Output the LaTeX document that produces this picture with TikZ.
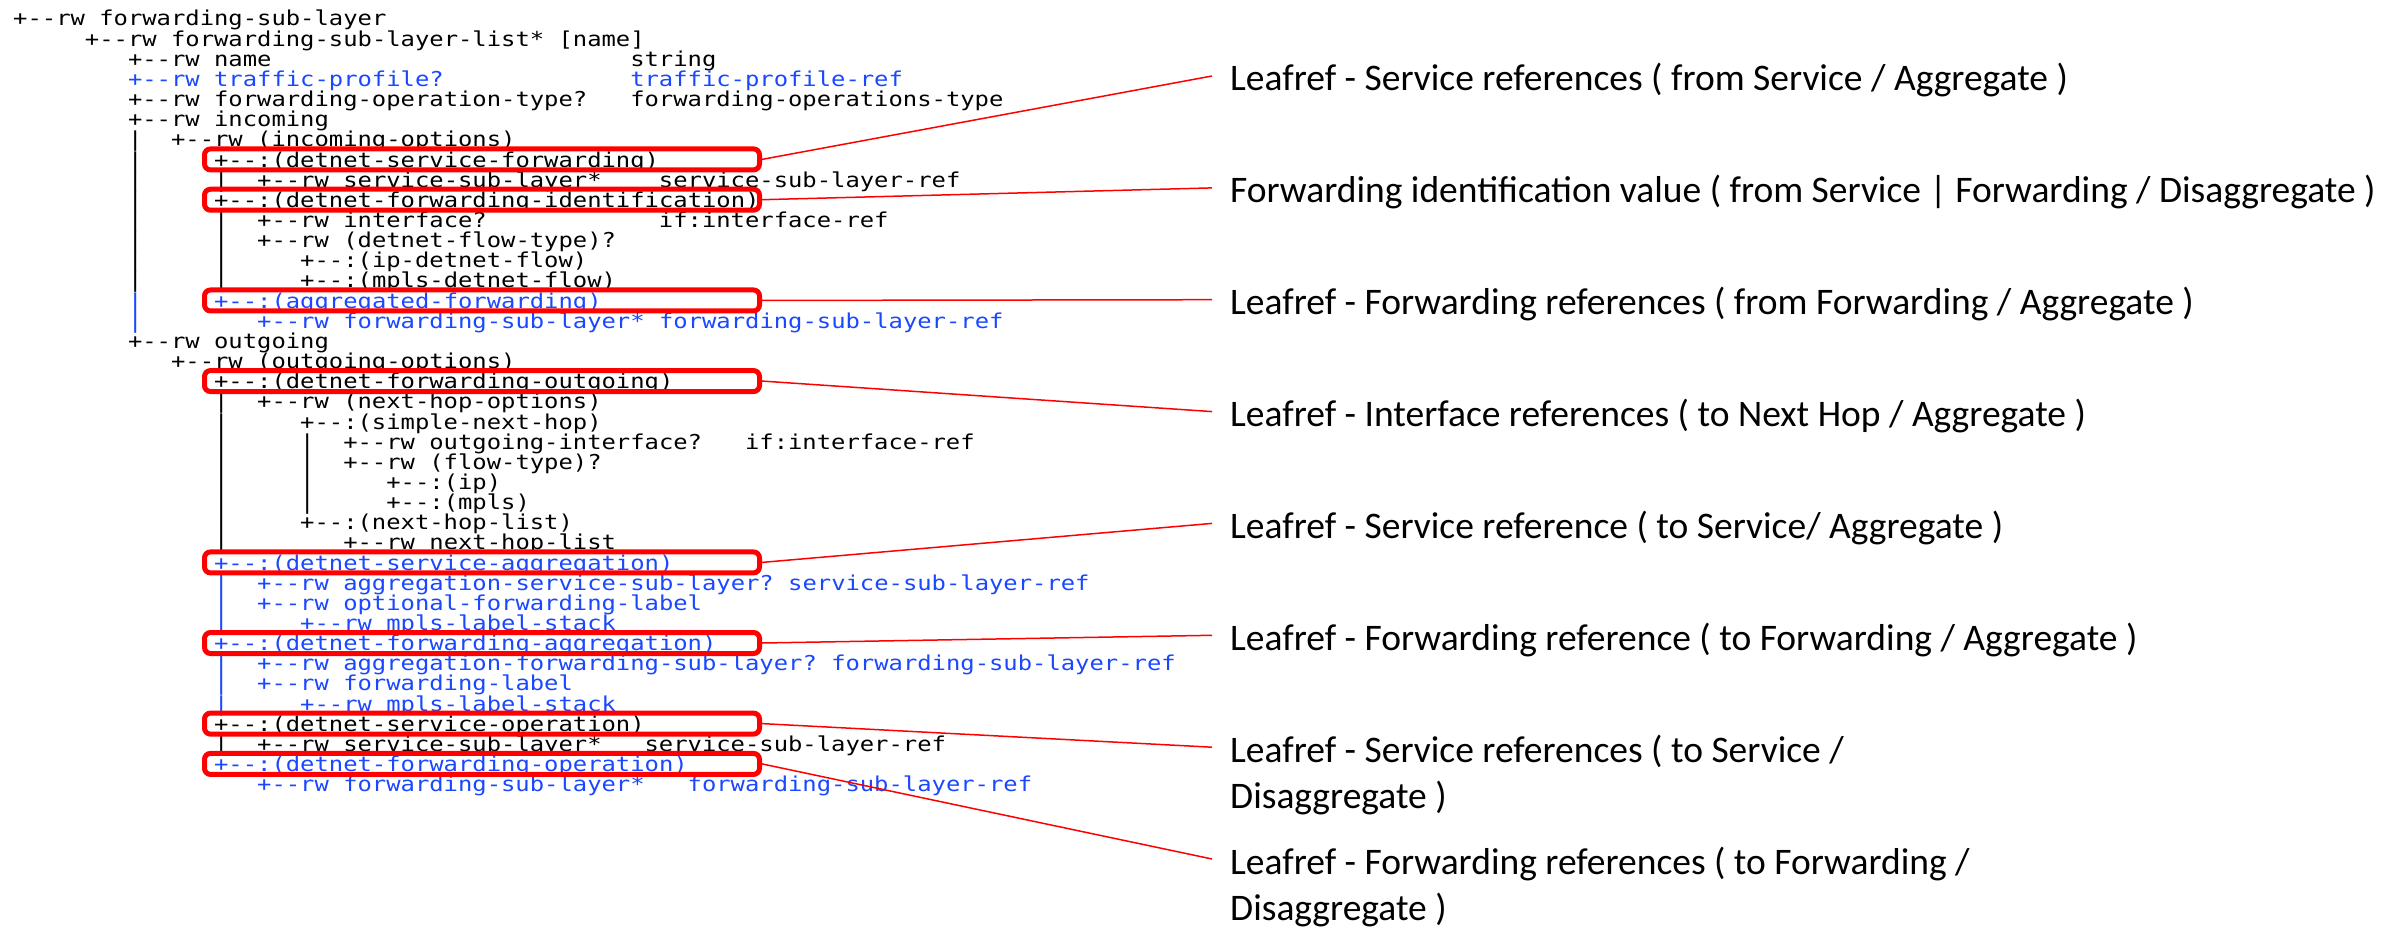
\documentclass[tikz,border=0pt]{standalone}
\usepackage{fontspec}
\setmainfont{Carlito}
\setmonofont{DejaVu Sans Mono}[FakeStretch=1.163]
\definecolor{tb}{RGB}{26,72,255}
\def\xo{13}
\def\cw{14.35}
\def\bo{26}
\def\ls{20.15}
\tikzset{
  tree/.style={font=\ttfamily\fontsize{20.5}{20}\selectfont, anchor=base west, inner sep=0pt, text=black},
  treeb/.style={tree, text=tb},
  rbox/.style={draw=red, line width=5pt, rounded corners=6pt, minimum width=555pt, minimum height=21pt, inner sep=0pt},
  lab/.style={font=\fontsize{37.5}{44}\selectfont, anchor=base west, inner sep=0pt, text=black},
  conn/.style={draw=red, line width=1.5pt}
}
\begin{document}
\begin{tikzpicture}[x=1pt,y=-1pt]
\useasboundingbox[fill=white] (0,0) rectangle (2396,928);
% tree lines
\node[tree]  (t1)  at (\xo+0*\cw,  \bo+0*\ls)  {+--rw~forwarding-sub-layer};
\node[tree]  (t2)  at (\xo+5*\cw,  \bo+1*\ls)  {+--rw~forwarding-sub-layer-list*~[name]};
\node[tree]  (t3)  at (\xo+8*\cw,  \bo+2*\ls)  {+--rw~name};
\node[tree]  (v3)  at (\xo+43*\cw, \bo+2*\ls)  {string};
\node[treeb] (t4)  at (\xo+8*\cw,  \bo+3*\ls)  {+--rw~traffic-profile?};
\node[treeb] (v4)  at (\xo+43*\cw, \bo+3*\ls)  {traffic-profile-ref};
\node[tree]  (t5)  at (\xo+8*\cw,  \bo+4*\ls)  {+--rw~forwarding-operation-type?};
\node[tree]  (v5)  at (\xo+43*\cw, \bo+4*\ls)  {forwarding-operations-type};
\node[tree]  (t6)  at (\xo+8*\cw,  \bo+5*\ls)  {+--rw~incoming};
\node[tree]  (t7)  at (\xo+8*\cw,  \bo+6*\ls)  {|~~+--rw~(incoming-options)};
\node[tree]  (t8)  at (\xo+8*\cw,  \bo+7*\ls)  {|~~~~~+--:(detnet-service-forwarding)};
\node[tree]  (t9)  at (\xo+8*\cw,  \bo+8*\ls)  {|~~~~~|~~+--rw~service-sub-layer*};
\node[tree]  (v9)  at (\xo+45*\cw, \bo+8*\ls)  {service-sub-layer-ref};
\node[tree]  (t10) at (\xo+8*\cw,  \bo+9*\ls)  {|~~~~~+--:(detnet-forwarding-identification)};
\node[tree]  (t11) at (\xo+8*\cw,  \bo+10*\ls) {|~~~~~|~~+--rw~interface?};
\node[tree]  (v11) at (\xo+45*\cw, \bo+10*\ls) {if:interface-ref};
\node[tree]  (t12) at (\xo+8*\cw,  \bo+11*\ls) {|~~~~~|~~+--rw~(detnet-flow-type)?};
\node[tree]  (t13) at (\xo+8*\cw,  \bo+12*\ls) {|~~~~~|~~~~~+--:(ip-detnet-flow)};
\node[tree]  (t14) at (\xo+8*\cw,  \bo+13*\ls) {|~~~~~|~~~~~+--:(mpls-detnet-flow)};
\node[treeb] (t15) at (\xo+8*\cw,  \bo+14*\ls) {|~~~~~+--:(aggregated-forwarding)};
\node[treeb] (t16) at (\xo+8*\cw,  \bo+15*\ls) {|~~~~~~~~+--rw~forwarding-sub-layer*~forwarding-sub-layer-ref};
\node[tree]  (t17) at (\xo+8*\cw,  \bo+16*\ls) {+--rw~outgoing};
\node[tree]  (t18) at (\xo+11*\cw, \bo+17*\ls) {+--rw~(outgoing-options)};
\node[tree]  (t19) at (\xo+14*\cw, \bo+18*\ls) {+--:(detnet-forwarding-outgoing)};
\node[tree]  (t20) at (\xo+14*\cw, \bo+19*\ls) {|~~+--rw~(next-hop-options)};
\node[tree]  (t21) at (\xo+14*\cw, \bo+20*\ls) {|~~~~~+--:(simple-next-hop)};
\node[tree]  (t22) at (\xo+14*\cw, \bo+21*\ls) {|~~~~~|~~+--rw~outgoing-interface?};
\node[tree]  (v22) at (\xo+51*\cw, \bo+21*\ls) {if:interface-ref};
\node[tree]  (t23) at (\xo+14*\cw, \bo+22*\ls) {|~~~~~|~~+--rw~(flow-type)?};
\node[tree]  (t24) at (\xo+14*\cw, \bo+23*\ls) {|~~~~~|~~~~~+--:(ip)};
\node[tree]  (t25) at (\xo+14*\cw, \bo+24*\ls) {|~~~~~|~~~~~+--:(mpls)};
\node[tree]  (t26) at (\xo+14*\cw, \bo+25*\ls) {|~~~~~+--:(next-hop-list)};
\node[tree]  (t27) at (\xo+14*\cw, \bo+26*\ls) {|~~~~~~~~+--rw~next-hop-list};
\node[treeb] (t28) at (\xo+14*\cw, \bo+27*\ls) {+--:(detnet-service-aggregation)};
\node[treeb] (t29) at (\xo+14*\cw, \bo+28*\ls) {|~~+--rw~aggregation-service-sub-layer?~service-sub-layer-ref};
\node[treeb] (t30) at (\xo+14*\cw, \bo+29*\ls) {|~~+--rw~optional-forwarding-label};
\node[treeb] (t31) at (\xo+14*\cw, \bo+30*\ls) {|~~~~~+--rw~mpls-label-stack};
\node[treeb] (t32) at (\xo+14*\cw, \bo+31*\ls) {+--:(detnet-forwarding-aggregation)};
\node[treeb] (t33) at (\xo+14*\cw, \bo+32*\ls) {|~~+--rw~aggregation-forwarding-sub-layer?~forwarding-sub-layer-ref};
\node[treeb] (t34) at (\xo+14*\cw, \bo+33*\ls) {|~~+--rw~forwarding-label};
\node[treeb] (t35) at (\xo+14*\cw, \bo+34*\ls) {|~~~~~+--rw~mpls-label-stack};
\node[tree]  (t36) at (\xo+14*\cw, \bo+35*\ls) {+--:(detnet-service-operation)};
\node[tree]  (t37) at (\xo+14*\cw, \bo+36*\ls) {|~~+--rw~service-sub-layer*};
\node[tree]  (v37) at (\xo+44*\cw, \bo+36*\ls) {service-sub-layer-ref};
\node[treeb] (t38) at (\xo+14*\cw, \bo+37*\ls) {+--:(detnet-forwarding-operation)};
\node[treeb] (t39) at (\xo+17*\cw, \bo+38*\ls) {+--rw~forwarding-sub-layer*};
\node[treeb] (v39) at (\xo+47*\cw, \bo+38*\ls) {forwarding-sub-layer-ref};
% red boxes
\node[rbox] (b1) at (482, \bo+7*\ls-7.65)  {};
\node[rbox] (b2) at (482, \bo+9*\ls-7.65)  {};
\node[rbox] (b3) at (482, \bo+14*\ls-7.65) {};
\node[rbox] (b4) at (482, \bo+18*\ls-7.65) {};
\node[rbox] (b5) at (482, \bo+27*\ls-7.65) {};
\node[rbox] (b6) at (482, \bo+31*\ls-7.65) {};
\node[rbox] (b7) at (482, \bo+35*\ls-7.65) {};
\node[rbox] (b8) at (482, \bo+37*\ls-7.65) {};
% labels
\node[lab] (l1) at (1230, 91)     {Leafref - Service references ( from Service / Aggregate )};
\node[lab] (l2) at (1230, 202.9)  {Forwarding identification value ( from Service | Forwarding / Disaggregate )};
\node[lab] (l3) at (1230, 314.7)  {Leafref - Forwarding references ( from Forwarding / Aggregate )};
\node[lab] (l4) at (1230, 426.6)  {Leafref - Interface references ( to Next Hop / Aggregate )};
\node[lab] (l5) at (1230, 538.4)  {Leafref - Service reference ( to Service/ Aggregate )};
\node[lab] (l6) at (1230, 650.3)  {Leafref - Forwarding reference ( to Forwarding / Aggregate )};
\node[lab] (l7) at (1230, 762.2)  {Leafref - Service references ( to Service /};
\node[lab] (l7b) at (1230, 808.2) {Disaggregate )};
\node[lab] (l8) at (1230, 874)    {Leafref - Forwarding references ( to Forwarding /};
\node[lab] (l8b) at (1230, 920)   {Disaggregate )};
% connectors
\draw[conn] (b1.east) -- ([shift={(-18,-15)}]l1.base west);
\draw[conn] (b2.east) -- ([shift={(-18,-15)}]l2.base west);
\draw[conn] (b3.east) -- ([shift={(-18,-15)}]l3.base west);
\draw[conn] (b4.east) -- ([shift={(-18,-15)}]l4.base west);
\draw[conn] (b5.east) -- ([shift={(-18,-15)}]l5.base west);
\draw[conn] (b6.east) -- ([shift={(-18,-15)}]l6.base west);
\draw[conn] (b7.east) -- ([shift={(-18,-15)}]l7.base west);
\draw[conn] (b8.east) -- ([shift={(-18,-15)}]l8.base west);
\end{tikzpicture}
\end{document}
